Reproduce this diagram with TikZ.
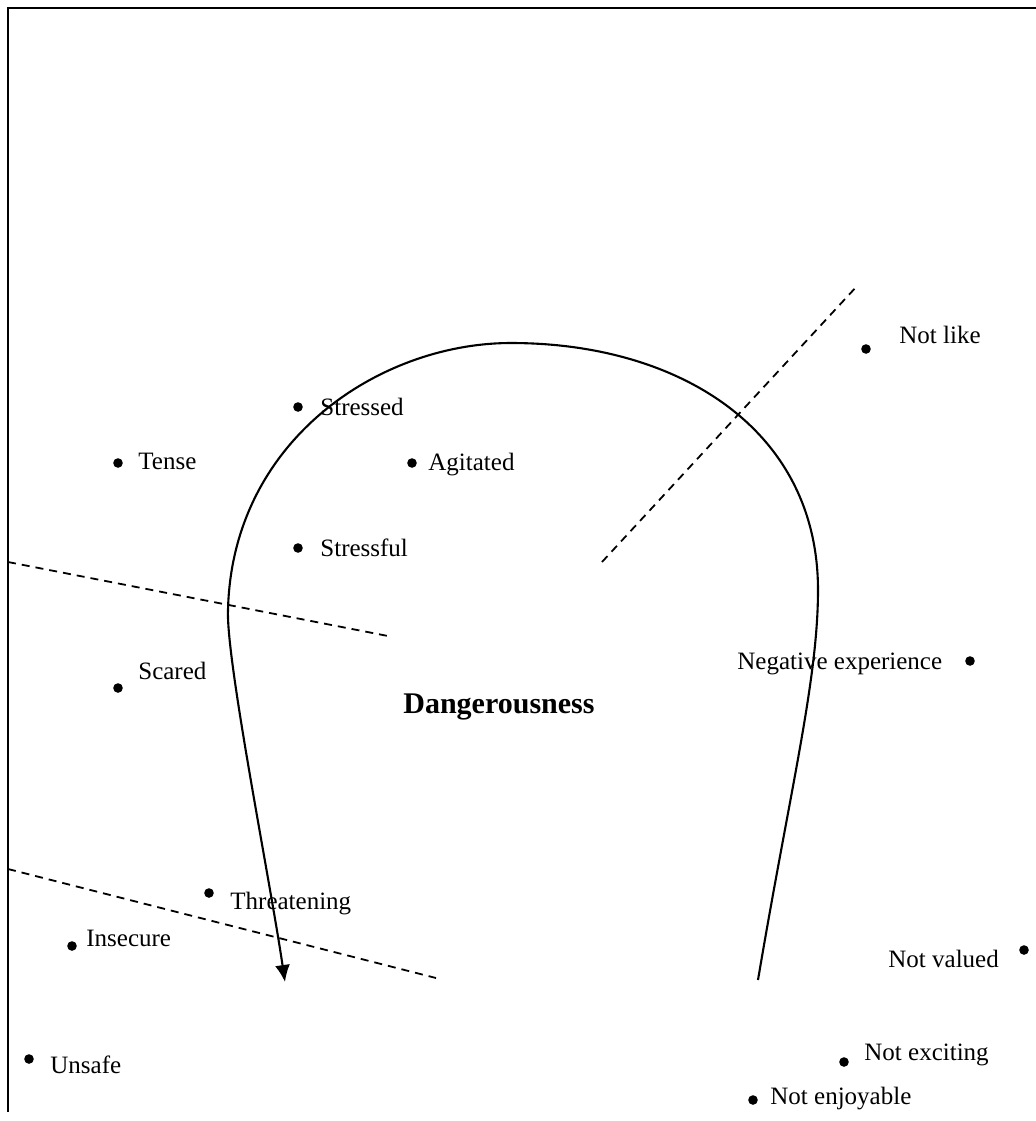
\documentclass[tikz,border=0pt]{standalone}
\usepackage{fontspec}
\setmainfont{Liberation Serif}
\usetikzlibrary{arrows.meta}
\begin{document}
\begin{tikzpicture}[x=0.5pt,y=-0.5pt,
  dot/.style={circle,fill=black,inner sep=0pt,minimum size=4.8pt},
  lbl/.style={anchor=base west,inner sep=0pt,font=\fontsize{12.5pt}{14pt}\selectfont},
  title/.style={anchor=base west,inner sep=0pt,font=\fontsize{15pt}{17pt}\selectfont\bfseries},
  frame/.style={line width=1pt},
  curve/.style={line width=1.05pt},
  divider/.style={line width=0.9pt,dash pattern=on 4pt off 3pt}]
\useasboundingbox (0,0) rectangle (1036,1121);

% frame: top and left edges
\coordinate (fTR) at (1036,8);
\coordinate (fTL) at (8,8);
\coordinate (fBL) at (8,1112);
\draw[frame] (fTR) -- (fTL) -- (fBL);

% dashed dividers
\coordinate (d1a) at (8,562);   \coordinate (d1b) at (388,636);
\coordinate (d2a) at (8,869);   \coordinate (d2b) at (436,978);
\coordinate (d3a) at (602,562); \coordinate (d3b) at (858,285);
\draw[divider] (d1a) -- (d1b);
\draw[divider] (d2a) -- (d2b);
\draw[divider] (d3a) -- (d3b);

% horseshoe curve ending in an arrow
\coordinate (cStart) at (758,980);
\coordinate (cRight) at (818,590);
\coordinate (cTop)   at (511,343);
\coordinate (cLeft)  at (228,610);
\coordinate (cEnd)   at (285,982);
\draw[curve,-{Latex[length=8.5pt,width=7.5pt]}]
  (cStart) .. controls (790,790) and (818,680) .. (cRight)
           .. controls (818,430) and (680,343) .. (cTop)
           .. controls (380,343) and (232,440) .. (cLeft)
           .. controls (226,660) and (270,880) .. (cEnd);

% points
\node[dot] (pStressed)   at (298,407) {};
\node[dot] (pTense)      at (118,463) {};
\node[dot] (pAgitated)   at (412,463) {};
\node[dot] (pStressful)  at (298,548) {};
\node[dot] (pScared)     at (118,688) {};
\node[dot] (pNotlike)    at (866,349) {};
\node[dot] (pNegative)   at (970,661) {};
\node[dot] (pThreat)     at (209,893) {};
\node[dot] (pInsecure)   at (72,946) {};
\node[dot] (pUnsafe)     at (29,1059) {};
\node[dot] (pNotvalued)  at (1024,950) {};
\node[dot] (pNotexc)     at (844,1062) {};
\node[dot] (pNotenj)     at (753,1100) {};

% labels
\node[lbl] (tStressed)  at (320,415)  {Stressed};
\node[lbl] (tTense)     at (138,469)  {Tense};
\node[lbl] (tAgitated)  at (428,470)  {Agitated};
\node[lbl] (tStressful) at (320,556)  {Stressful};
\node[lbl] (tScared)    at (138,679)  {Scared};
\node[lbl] (tNotlike)   at (899,343)  {Not like};
\node[lbl] (tNegative)  at (737,669)  {Negative experience};
\node[title] (tDanger)  at (403,713)  {Dangerousness};
\node[lbl] (tThreat)    at (230,909)  {Threatening};
\node[lbl] (tInsecure)  at (86,946)   {Insecure};
\node[lbl] (tUnsafe)    at (50,1073)  {Unsafe};
\node[lbl] (tNotvalued) at (888,967)  {Not valued};
\node[lbl] (tNotexc)    at (864,1060) {Not exciting};
\node[lbl] (tNotenj)    at (770,1104) {Not enjoyable};
\end{tikzpicture}
\end{document}
